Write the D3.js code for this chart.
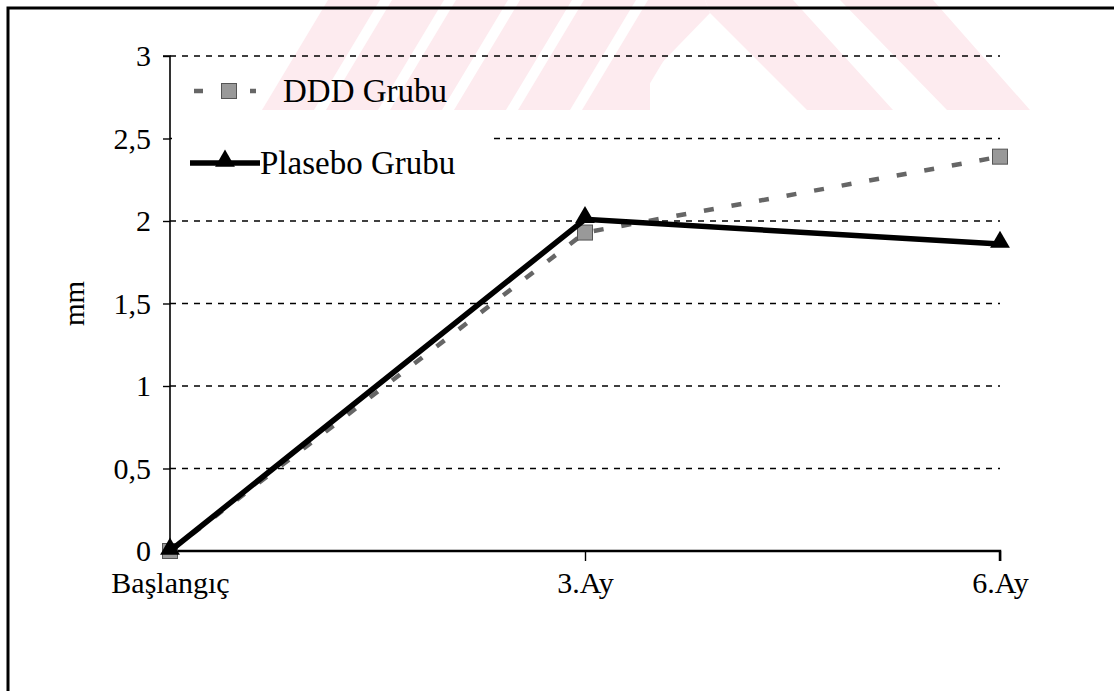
<!DOCTYPE html>
<html><head><meta charset="utf-8">
<script src="https://cdn.jsdelivr.net/npm/d3@7"></script>
<style>
html,body{margin:0;padding:0;background:#fff;}
svg{display:block;}
text{font-family:"Liberation Serif","Times New Roman",serif;fill:#000;}
</style></head>
<body><svg id="c" width="1114" height="691"></svg>
<script>
const categories = ["Başlangıç", "3.Ay", "6.Ay"];
const dddValues = [0, 1.93, 2.39];
const plaseboValues = [0, 2.01, 1.86];
const yTicks = [0, 0.5, 1, 1.5, 2, 2.5, 3];
const yTickLabels = ["0", "0,5", "1", "1,5", "2", "2,5", "3"];
const seriesNames = ["DDD Grubu", "Plasebo Grubu"];
const yTitle = "mm";

const svg = d3.select("#c");
const pink = "#fdebef";

// --- scanned watermark (decoration) ---
const wmH = 110;
function drawWatermark(g) {
  g.attr("fill", pink);
  for (let i = 0; i < 6; i++) {
    const bx = 262 + i * 64;
    g.append("polygon").attr("points", [[bx, wmH], [bx + 52, wmH], [bx + 52 + 66, 0], [bx + 66, 0]].join(" "));
  }
  const ax = 710, ay = 13;
  g.append("polygon").attr("points", [[ax, ay], [616, wmH], [650, wmH], [650, 0], [ax - 5, 0]].join(" "));
  g.append("polygon").attr("points", [[ax, ay], [807, wmH], [893, wmH], [793, 0], [ax - 5, 0]].join(" "));
  g.append("polygon").attr("points", [[840, 0], [933, 0], [1030, wmH], [947, wmH]].join(" "));
}
drawWatermark(svg.append("g"));

// --- frame ---
svg.append("path").attr("d", "M8,691 L8,8 L1114,8").attr("fill", "none").attr("stroke", "#000").attr("stroke-width", 3);

const x = d3.scalePoint().domain(categories).range([170, 1000]);
const y = d3.scaleLinear().domain([0, 3]).range([551, 56]);

// gridlines
svg.append("g").selectAll("line").data(yTicks.filter(d => d > 0)).join("line")
  .attr("x1", 170).attr("x2", 1000).attr("y1", d => y(d)).attr("y2", d => y(d))
  .attr("stroke", "#000").attr("stroke-width", 1.4).attr("stroke-dasharray", "6,6");

// legend background (hides gridline) + watermark visible through it
svg.append("rect").attr("x", 172).attr("y", 66).attr("width", 318).attr("height", 130).attr("fill", "#fff");
svg.append("clipPath").attr("id", "legclip").append("rect").attr("x", 172).attr("y", 66).attr("width", 318).attr("height", wmH - 66);
drawWatermark(svg.append("g").attr("clip-path", "url(#legclip)"));

// y axis
const yAxis = d3.axisLeft(y).tickValues(yTicks).tickFormat((d, i) => yTickLabels[i]).tickSize(7).tickPadding(12);
const gy = svg.append("g").attr("transform", "translate(170,0)").call(yAxis);
gy.select(".domain").attr("stroke-width", 1.6).attr("d", `M-7,${y(3)}H0V${y(0)}`);
gy.selectAll(".tick line").attr("stroke-width", 1.4);
gy.selectAll("text").attr("font-size", 30).attr("font-family", "Liberation Serif");

// x axis
const xAxis = d3.axisBottom(x).tickSize(10).tickPadding(11);
const gx = svg.append("g").attr("transform", `translate(0,${y(0)})`).call(xAxis);
gx.select(".domain").attr("stroke-width", 2.5).attr("d", `M170,0H1000V10`);
gx.selectAll(".tick line").attr("stroke-width", 1.4).attr("display", (d, i) => i === 0 ? "none" : null);
gx.selectAll("text").attr("font-size", 30).attr("font-family", "Liberation Serif").attr("dy", "0.71em");

// y title
svg.append("text").attr("transform", `translate(84,${y(1.5)}) rotate(-90)`).attr("text-anchor", "middle")
  .attr("font-size", 29).text(yTitle);

const line = d3.line().x((d, i) => x(categories[i])).y(d => y(d));

// DDD series
svg.append("path").datum(dddValues).attr("d", line).attr("fill", "none")
  .attr("stroke", "#666").attr("stroke-width", 4.5).attr("stroke-dasharray", "10,18");
const sq = 15;
svg.append("g").selectAll("rect").data(dddValues).join("rect")
  .attr("x", (d, i) => x(categories[i]) - sq / 2).attr("y", d => y(d) - sq / 2)
  .attr("width", sq).attr("height", sq).attr("fill", "#999").attr("stroke", "#555").attr("stroke-width", 1);

// Plasebo series
svg.append("path").datum(plaseboValues).attr("d", line).attr("fill", "none")
  .attr("stroke", "#000").attr("stroke-width", 5.5);
const tri = d3.symbol().type(d3.symbolTriangle).size(170);
svg.append("g").selectAll("path").data(plaseboValues).join("path")
  .attr("d", tri).attr("transform", (d, i) => `translate(${x(categories[i])},${y(d) - 2})`).attr("fill", "#000");

// legend
const lg = svg.append("g");
const l1y = 91;
lg.append("line").attr("x1", 194).attr("x2", 256).attr("y1", l1y).attr("y2", l1y)
  .attr("stroke", "#666").attr("stroke-width", 4.5).attr("stroke-dasharray", "9,19");
lg.append("rect").attr("x", 229 - sq / 2).attr("y", l1y - sq / 2).attr("width", sq).attr("height", sq)
  .attr("fill", "#999").attr("stroke", "#555").attr("stroke-width", 1);
lg.append("text").attr("x", 283).attr("y", l1y + 11).attr("font-size", 33).text(seriesNames[0]);
const l2y = 163;
lg.append("line").attr("x1", 190).attr("x2", 260).attr("y1", l2y).attr("y2", l2y)
  .attr("stroke", "#000").attr("stroke-width", 5.5);
lg.append("path").attr("d", tri).attr("transform", `translate(225,${l2y - 2})`).attr("fill", "#000");
lg.append("text").attr("x", 260).attr("y", l2y + 11).attr("font-size", 33).text(seriesNames[1]);
</script>
</body></html>
